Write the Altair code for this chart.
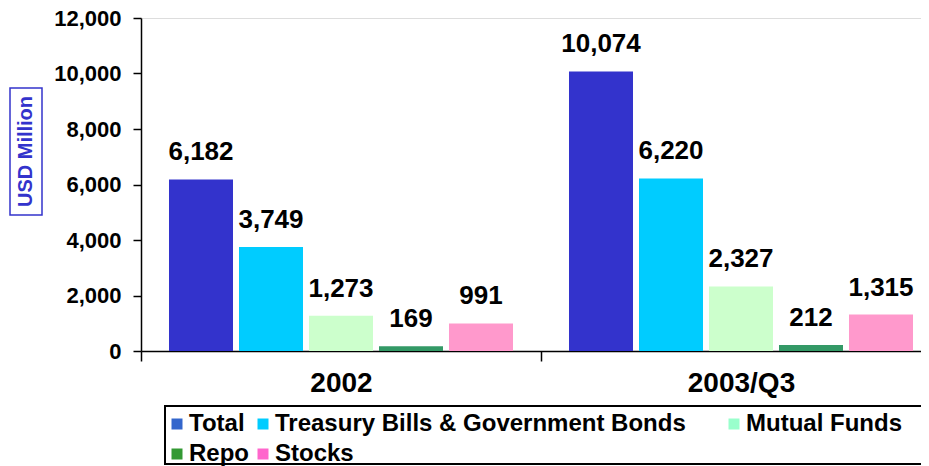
import altair as alt
import pandas as pd

periods = ["2002", "2003/Q3"]
series = ["Total", "Treasury Bills & Government Bonds", "Mutual Funds", "Repo", "Stocks"]
values_2002 = [6182, 3749, 1273, 169, 991]
values_2003q3 = [10074, 6220, 2327, 212, 1315]
bar_colors = ["#3333CC", "#00CCFF", "#CCFFCC", "#339966", "#FF99CC"]
legend_colors = ["#3366CC", "#00CCFF", "#99FFCC", "#339933", "#FF66CC"]
y_ticks = [0, 2000, 4000, 6000, 8000, 10000, 12000]
y_title = "USD Million"

rows = []
for p, vals in zip(periods, [values_2002, values_2003q3]):
    for s, v in zip(series, vals):
        rows.append({"period": p, "series": s, "value": v})
df = pd.DataFrame(rows)

FONT = "Liberation Sans"
PAD = "\u00a0" * 5 + "\u200b"

x_enc = alt.X(
    "period:N", sort=periods,
    scale=alt.Scale(paddingInner=0, paddingOuter=0, range=[0, 800]),
    axis=alt.Axis(title=None, labelAngle=0, labelFontSize=28, labelFontWeight="bold",
                  labelColor="black", tickBand="extent", tickSize=10, tickColor="black",
                  tickWidth=1.5, domainColor="black", domainWidth=1.5, labelPadding=8),
)
xoff = alt.XOffset("series:N", sort=series,
                   scale=alt.Scale(paddingInner=0.0857, paddingOuter=0.4))
y_enc = alt.Y(
    "value:Q",
    scale=alt.Scale(domain=[0, 12000], nice=False),
    axis=alt.Axis(title=None, values=y_ticks, format=",.0f", labelFontSize=22,
                  labelFontWeight="bold", labelColor="black", tickSize=8,
                  tickColor="black", tickWidth=1.5, domainColor="black",
                  domainWidth=1.5, labelPadding=12, grid=False),
)

bars = alt.Chart(df).mark_bar().encode(
    x=x_enc, xOffset=xoff, y=y_enc,
    color=alt.Color("series:N", sort=series,
                    scale=alt.Scale(domain=series, range=bar_colors), legend=None),
)

labels = alt.Chart(df).mark_text(
    baseline="alphabetic", dy=-19, fontSize=26, fontWeight="bold", color="black"
).encode(
    x=alt.X("period:N", sort=periods),
    xOffset=alt.XOffset("series:N", sort=series),
    y="value:Q",
    text=alt.Text("value:Q", format=",.0f"),
)

legend_layer = alt.Chart(df).mark_square(opacity=0).encode(
    color=alt.Color(
        "series:N", sort=series,
        scale=alt.Scale(domain=series, range=legend_colors),
        legend=alt.Legend(
            title=None, orient="none", legendX=24, legendY=394, columns=3,
            direction="horizontal",
            symbolType="square", symbolSize=121, symbolOpacity=1, symbolStrokeWidth=0,
            labelFontSize=24, labelFontWeight="bold", labelColor="black",
            labelOffset=0, columnPadding=2, rowPadding=6, padding=0, labelLimit=700,
            labelExpr="indexof(datum.label, 'Treasury') == 0 ? datum.label + '" + PAD + "' : datum.label",
        ),
    )
)

one = alt.Data(values=[{"t": y_title}])
title_box = alt.Chart(one).mark_rect(fill="white", stroke="#3333CC", strokeWidth=1.5).encode(
    x=alt.value(-131), x2=alt.value(-99), y=alt.value(70), y2=alt.value(197)
)
title_text = alt.Chart(one).mark_text(
    angle=270, fontSize=20, fontWeight="bold", color="#3333CC", baseline="middle", align="center"
).encode(x=alt.value(-115), y=alt.value(133.5), text="t:N")
legend_box = alt.Chart(one).mark_rect(fill="transparent", stroke="black", strokeWidth=2).encode(
    x=alt.value(24), x2=alt.value(784), y=alt.value(388), y2=alt.value(446)
)

chart = alt.layer(
    title_box, title_text, bars, labels, legend_layer, legend_box
).resolve_scale(color="independent").properties(
    width=780, height=333,
    autosize=alt.AutoSizeParams(type="none"),
    padding={"left": 133, "top": 10, "right": 0, "bottom": 115},
).configure_view(stroke=None).configure(font=FONT)

chart.save("out.html", embed_options={"renderer": "svg", "actions": False})
